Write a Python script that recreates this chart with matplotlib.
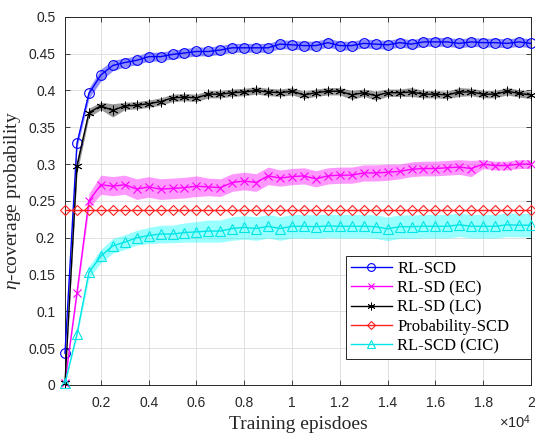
import numpy as np
import matplotlib
matplotlib.use("Agg")
import matplotlib.pyplot as plt
from matplotlib.ticker import FuncFormatter, MultipleLocator

plt.rcParams['mathtext.fontset'] = 'custom'
plt.rcParams['mathtext.it'] = 'Liberation Serif:italic'
plt.rcParams['mathtext.rm'] = 'Liberation Sans'

# training episodes (one point every 500)
episodes = np.arange(500, 20001, 500)

rl_scd = [0.043, 0.328, 0.396, 0.421, 0.434, 0.438, 0.441, 0.446, 0.446, 0.449,
          0.451, 0.453, 0.453, 0.455, 0.458, 0.458, 0.458, 0.458, 0.463, 0.462,
          0.461, 0.461, 0.465, 0.461, 0.461, 0.464, 0.463, 0.462, 0.465, 0.463,
          0.466, 0.466, 0.466, 0.464, 0.466, 0.465, 0.465, 0.464, 0.466, 0.464]
rl_scd_sd = [0.0, 0.006, 0.007, 0.008, 0.007, 0.006, 0.006, 0.006, 0.006, 0.006,
             0.006, 0.006, 0.006, 0.006, 0.006, 0.006, 0.006, 0.006, 0.006, 0.006,
             0.006, 0.006, 0.006, 0.006, 0.006, 0.006, 0.006, 0.006, 0.006, 0.006,
             0.006, 0.006, 0.006, 0.006, 0.006, 0.006, 0.006, 0.006, 0.006, 0.006]

rl_sd_ec = [0.003, 0.125, 0.250, 0.272, 0.270, 0.272, 0.266, 0.269, 0.266, 0.267,
            0.268, 0.270, 0.269, 0.268, 0.275, 0.277, 0.275, 0.284, 0.281, 0.283,
            0.284, 0.280, 0.284, 0.285, 0.285, 0.288, 0.288, 0.289, 0.290, 0.293,
            0.294, 0.294, 0.295, 0.296, 0.294, 0.300, 0.298, 0.298, 0.300, 0.300]
rl_sd_ec_sd = [0.0, 0.005, 0.010, 0.013, 0.013, 0.013, 0.014, 0.014, 0.014, 0.014,
               0.014, 0.014, 0.012, 0.012, 0.012, 0.012, 0.012, 0.012, 0.011, 0.011,
               0.011, 0.011, 0.011, 0.011, 0.011, 0.011, 0.011, 0.011, 0.010, 0.010,
               0.010, 0.010, 0.010, 0.010, 0.011, 0.006, 0.006, 0.006, 0.006, 0.006]

rl_sd_lc = [0.003, 0.297, 0.370, 0.379, 0.373, 0.379, 0.380, 0.382, 0.385, 0.390,
            0.391, 0.390, 0.395, 0.395, 0.397, 0.398, 0.400, 0.398, 0.397, 0.399,
            0.394, 0.397, 0.399, 0.399, 0.394, 0.397, 0.393, 0.397, 0.397, 0.398,
            0.395, 0.395, 0.394, 0.398, 0.398, 0.395, 0.395, 0.399, 0.396, 0.394]
rl_sd_lc_sd = [0.0, 0.010, 0.006, 0.005, 0.009, 0.005, 0.005, 0.005, 0.005, 0.005,
               0.005, 0.005, 0.005, 0.005, 0.005, 0.005, 0.005, 0.005, 0.005, 0.005,
               0.005, 0.005, 0.005, 0.005, 0.006, 0.005, 0.006, 0.005, 0.005, 0.006,
               0.005, 0.005, 0.005, 0.006, 0.005, 0.005, 0.005, 0.005, 0.005, 0.005]

prob_scd = [0.237] * 40

rl_scd_cic = [0.002, 0.069, 0.153, 0.175, 0.189, 0.194, 0.200, 0.203, 0.205, 0.205,
              0.207, 0.208, 0.209, 0.209, 0.2125, 0.214, 0.2125, 0.2155, 0.2125, 0.2155,
              0.2155, 0.215, 0.216, 0.2155, 0.2155, 0.2155, 0.215, 0.212, 0.215, 0.215,
              0.2155, 0.2155, 0.2155, 0.2175, 0.2155, 0.2155, 0.2155, 0.2175, 0.217, 0.217]
rl_scd_cic_sd = [0.0, 0.004, 0.008, 0.009, 0.010, 0.010, 0.010, 0.011, 0.012, 0.012,
                 0.013, 0.014, 0.015, 0.015, 0.016, 0.016, 0.016, 0.016, 0.016, 0.016,
                 0.016, 0.016, 0.016, 0.016, 0.016, 0.016, 0.016, 0.016, 0.016, 0.016,
                 0.016, 0.016, 0.016, 0.016, 0.016, 0.016, 0.016, 0.016, 0.016, 0.016]

fig = plt.figure(figsize=(5.35, 4.33), dpi=100)
ax = fig.add_axes([0.1215, 0.111, 0.871, 0.85])

series = [
    (rl_scd, rl_scd_sd, '#0000ff', 'o', 'RL-SCD', 0.45),
    (rl_sd_ec, rl_sd_ec_sd, '#ff00ff', 'x', 'RL-SD (EC)', 0.4),
    (rl_sd_lc, rl_sd_lc_sd, '#000000', (6, 2, 0), 'RL-SD (LC)', 0.4),
    (prob_scd, None, '#ff2020', 'D', 'Probability-SCD', 0),
    (rl_scd_cic, rl_scd_cic_sd, '#00e5e5', '^', 'RL-SCD (CIC)', 0.4),
]

for y, sd, c, m, lab, a in series:
    y = np.array(y)
    if sd is not None:
        sd = np.array(sd)
        fc = '#00ffff' if lab == 'RL-SCD (CIC)' else c
        ax.fill_between(episodes, y - sd, y + sd, color=fc, alpha=a, lw=0, zorder=2)

sizes = {'o': 7, 'x': 6, 'D': 5.5, '^': 7}
for y, sd, c, m, lab, a in series:
    ms = sizes.get(m, 7) if isinstance(m, str) else 7
    mew = 0.6 if not isinstance(m, str) else 0.8
    ax.plot(episodes, y, color=c, marker=m, mfc='none', mec=c, ms=ms, mew=mew,
            lw=1.0, label=lab, zorder=3, clip_on=False)

ax.set_xlim(500, 20000)
ax.set_ylim(0, 0.5)
ax.set_xticks(np.arange(2000, 20001, 2000))
ax.yaxis.set_major_locator(MultipleLocator(0.05))
ax.xaxis.set_major_formatter(FuncFormatter(lambda v, p: '%g' % (v / 1e4)))
ax.yaxis.set_major_formatter(FuncFormatter(lambda v, p: '%g' % round(v, 2)))

ax.grid(True, color='#dcdcdc', lw=0.6)
ax.set_axisbelow(True)
ax.tick_params(direction='in', length=3.5, width=0.6, top=True, right=True,
               labelsize=10, colors='#262626', labelcolor='#262626')
ax.tick_params(axis='y', pad=7)
ax.tick_params(axis='x', pad=8)
for t in ax.get_xticklabels() + ax.get_yticklabels():
    t.set_fontfamily('Liberation Sans')
for s in ax.spines.values():
    s.set_color('#262626')
    s.set_linewidth(0.7)

ax.set_xlabel('Training episdoes', family='Liberation Serif', fontsize=14,
              color='#262626', labelpad=4)
ax.set_ylabel(r'$\eta$-coverage probability', family='Liberation Serif',
              fontsize=14, color='#262626', labelpad=4)
ax.text(1.0, -0.1, r'$\times\mathregular{10}^{\mathregular{4}}$', transform=ax.transAxes,
        ha='right', va='center', fontsize=10.5, color='#262626', family='Liberation Sans')

leg = ax.legend(loc='lower left', bbox_to_anchor=(0.602, 0.07, 0.398, 0.2),
                mode='expand', borderaxespad=0,
                fancybox=False, framealpha=1, edgecolor='#262626',
                prop={'family': 'Liberation Serif', 'size': 12},
                labelspacing=0.2, handlelength=2.5, handletextpad=0.3,
                borderpad=0.3, markerscale=0.8)
leg.get_frame().set_linewidth(0.7)

fig.savefig('out.png', dpi=100)
